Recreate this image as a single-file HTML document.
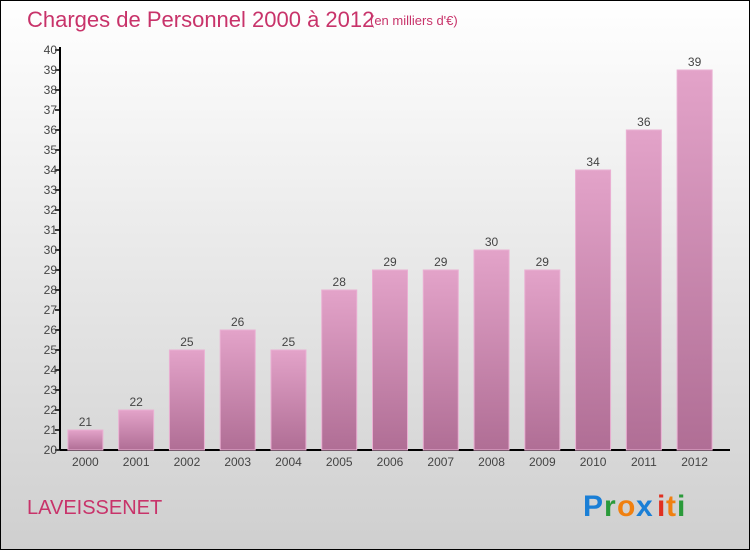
<!DOCTYPE html>
<html><head><meta charset="utf-8"><style>
body{margin:0}
svg{display:block;font-family:"Liberation Sans",sans-serif}
</style></head><body>
<svg width="750" height="550" viewBox="0 0 750 550">
<defs>
<linearGradient id="bg" x1="0" y1="0" x2="0" y2="1"><stop offset="0" stop-color="#ffffff"/><stop offset="1" stop-color="#cfcfcf"/></linearGradient>
<linearGradient id="bar" x1="0" y1="0" x2="0" y2="1"><stop offset="0" stop-color="#e3a3c9"/><stop offset="1" stop-color="#b06e95"/></linearGradient>
</defs>
<rect x="0.5" y="0.5" width="749" height="549" fill="url(#bg)" stroke="#000"/>
<text x="27" y="27" font-size="22" fill="#c8336a">Charges de Personnel 2000 à 2012</text>
<text x="370" y="25" font-size="13" fill="#c8336a">(en milliers d'€)</text>
<g id="ax"></g>
<g id="bars"></g>
<text x="27" y="514" font-size="20" fill="#c8336a">LAVEISSENET</text>
<g font-size="30" font-weight="bold">
<text x="583" y="516" fill="#1a7fd6">P</text><text x="604" y="516" fill="#2a9a3a">r</text><text x="617" y="516" fill="#f08010">o</text><text x="636" y="516" fill="#1a7fd6">x</text><text x="657" y="516" fill="#e03020">i</text><text x="666" y="516" fill="#f08010">t</text><text x="677" y="516" fill="#2a9a3a">i</text>
</g>
</svg>
<script>
const years=["2000","2001","2002","2003","2004","2005","2006","2007","2008","2009","2010","2011","2012"];
const values=[21,22,25,26,25,28,29,29,30,29,34,36,39];
const yTicks=[20,21,22,23,24,25,26,27,28,29,30,31,32,33,34,35,36,37,38,39,40];
const NS="http://www.w3.org/2000/svg";
const x0=60,x1=720,yMin=20,yMax=40,py0=450,py1=50;
const bw=(x1-x0)/years.length;
const y=v=>py0-(v-yMin)/(yMax-yMin)*(py0-py1);
const xc=i=>x0+(i+0.5)*bw;
function mk(t,a,p){const e=document.createElementNS(NS,t);for(const k in a)e.setAttribute(k,a[k]);p.appendChild(e);return e;}
const ax=document.getElementById('ax'),bars=document.getElementById('bars');
let l=mk('line',{x1:x0,y1:py1-3,x2:x0,y2:py0,stroke:'#000','stroke-width':2},ax);


l=mk('line',{x1:x0,y1:py0,x2:x1+10,y2:py0,stroke:'#000','stroke-width':2},ax);


yTicks.forEach(v=>{
 mk('line',{x1:x0-5,y1:y(v),x2:x0,y2:y(v),stroke:'#000','stroke-width':1.5},ax);
 const t=mk('text',{x:x0-3,y:y(v)+4,'font-size':12,fill:'#444','text-anchor':'end'},ax);
 t.textContent=v;
 
 
});
years.forEach((yr,i)=>{
 const v=values[i],c=xc(i);
 const r=mk('rect',{x:c-17.5,y:y(v),width:35,height:py0-y(v),fill:'url(#bar)',stroke:'#eab0d3','stroke-width':1},bars);
 
 
 const t=mk('text',{x:c,y:y(v)-4,'font-size':12,fill:'#444','text-anchor':'middle'},bars);
 t.textContent=v;
 
 
 const xt=mk('text',{x:c,y:466,'font-size':12,fill:'#444','text-anchor':'middle'},ax);
 xt.textContent=yr;
 
 
});
</script>
</body></html>
